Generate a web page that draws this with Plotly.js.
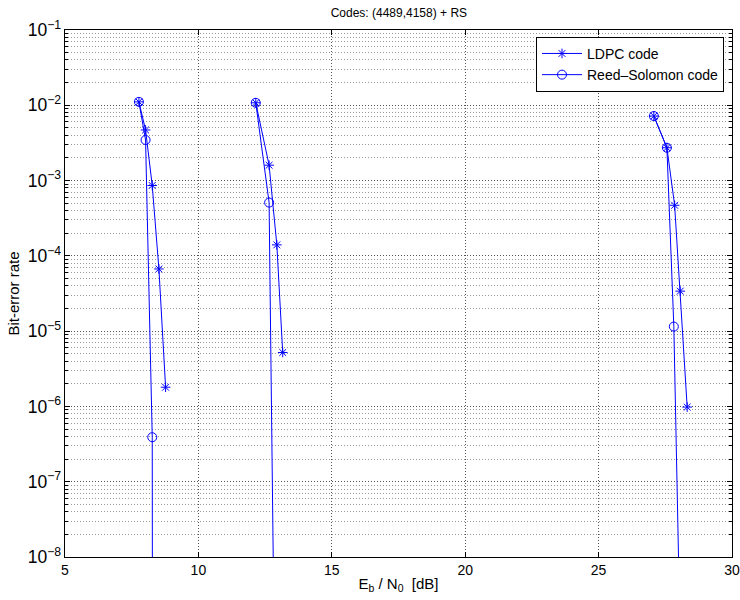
<!DOCTYPE html>
<html>
<head>
<meta charset="utf-8">
<script src="https://cdn.plot.ly/plotly-3.0.1.min.js"></script>
<style>html,body{margin:0;padding:0;background:#fff;}#chart{width:740px;height:600px;}</style>
</head>
<body>
<div id="chart"></div>
<script>
// LDPC code, three code-rate groups
const ldpcX1 = [7.77, 8.02, 8.27, 8.52, 8.77];
const ldpcY1 = [1.11e-2, 4.7e-3, 8.6e-4, 6.7e-5, 1.8e-6];
const ldpcX2 = [12.15, 12.65, 12.94, 13.16];
const ldpcY2 = [1.08e-2, 1.6e-3, 1.4e-4, 5.2e-6];
const ldpcX3 = [27.07, 27.56, 27.85, 28.06, 28.32];
const ldpcY3 = [7.2e-3, 2.73e-3, 4.7e-4, 3.4e-5, 9.8e-7];

// Reed-Solomon code (last point of each group falls below the axis)
const rsX1 = [7.77, 8.02, 8.27, 8.28];
const rsY1 = [1.11e-2, 3.46e-3, 3.9e-7, 1e-10];
const rsX2 = [12.15, 12.65, 12.87];
const rsY2 = [1.08e-2, 5.1e-4, 1e-10];
const rsX3 = [27.07, 27.56, 27.82, 28.11];
const rsY3 = [7.2e-3, 2.73e-3, 1.15e-5, 1e-10];

const xTicks = [5, 10, 15, 20, 25, 30];

function joinGroups(groups) {
  const out = [];
  groups.forEach((g, i) => { if (i > 0) out.push(null); out.push(...g); });
  return out;
}

const blue = 'rgb(0,0,255)';
const traces = [
  {
    name: 'LDPC code',
    x: joinGroups([ldpcX1, ldpcX2, ldpcX3]),
    y: joinGroups([ldpcY1, ldpcY2, ldpcY3]),
    mode: 'lines+markers',
    connectgaps: false,
    line: {color: blue, width: 1},
    marker: {symbol: 'asterisk-open', size: 8, color: blue, line: {color: blue, width: 1}}
  },
  {
    name: 'Reed\u2013Solomon code',
    x: joinGroups([rsX1, rsX2, rsX3]),
    y: joinGroups([rsY1, rsY2, rsY3]),
    mode: 'lines+markers',
    connectgaps: false,
    line: {color: blue, width: 1},
    marker: {symbol: 'circle-open', size: 9, color: blue, line: {color: blue, width: 1}}
  }
];

const font = {family: '"Liberation Sans", Arial, Helvetica, sans-serif', size: 14, color: '#000'};

const layout = {
  width: 740, height: 600,
  margin: {l: 65, r: 8, t: 30, b: 43},
  paper_bgcolor: '#fff', plot_bgcolor: '#fff',
  font: font,
  showlegend: true,
  title: {text: 'Codes: (4489,4158) + RS', font: {family: font.family, size: 12, color: '#000'}, x: 0.539, xanchor: 'center', y: 0.985, yanchor: 'top'},
  xaxis: {
    range: [5, 30], tickvals: xTicks, ticktext: xTicks.map(String),
    showline: true, mirror: 'ticks', linecolor: '#000', linewidth: 1,
    ticks: 'inside', ticklen: 5, tickcolor: '#000',
    showgrid: true, gridcolor: '#555', griddash: '1px,2px', gridwidth: 1,
    zeroline: false, tickfont: {size: 14},
    title: {text: 'E<sub>b</sub> / N<sub>0</sub>  [dB]', font: {size: 15}, standoff: 1}
  },
  yaxis: {
    type: 'log', range: [-8, -1], dtick: 1, exponentformat: 'power', showexponent: 'all',
    showline: true, mirror: 'ticks', linecolor: '#000', linewidth: 1,
    ticks: 'inside', ticklen: 5, tickcolor: '#000',
    showgrid: true, gridcolor: '#555', griddash: '1px,2px', gridwidth: 1,
    minor: {dtick: 'D1', showgrid: true, gridcolor: '#999', griddash: '1px,2px', ticks: 'inside', ticklen: 3, tickcolor: '#000'},
    zeroline: false, tickfont: {size: 14},
    title: {text: 'Bit-error rate', font: {size: 15}, standoff: 4}
  },
  legend: {
    x: 0.988, xanchor: 'right', y: 0.987, yanchor: 'top',
    bgcolor: '#fff', bordercolor: '#000', borderwidth: 1,
    font: {size: 14}, itemwidth: 40, tracegroupgap: 0
  }
};

Plotly.newPlot('chart', traces, layout, {displayModeBar: false, staticPlot: true});
</script>
</body>
</html>
